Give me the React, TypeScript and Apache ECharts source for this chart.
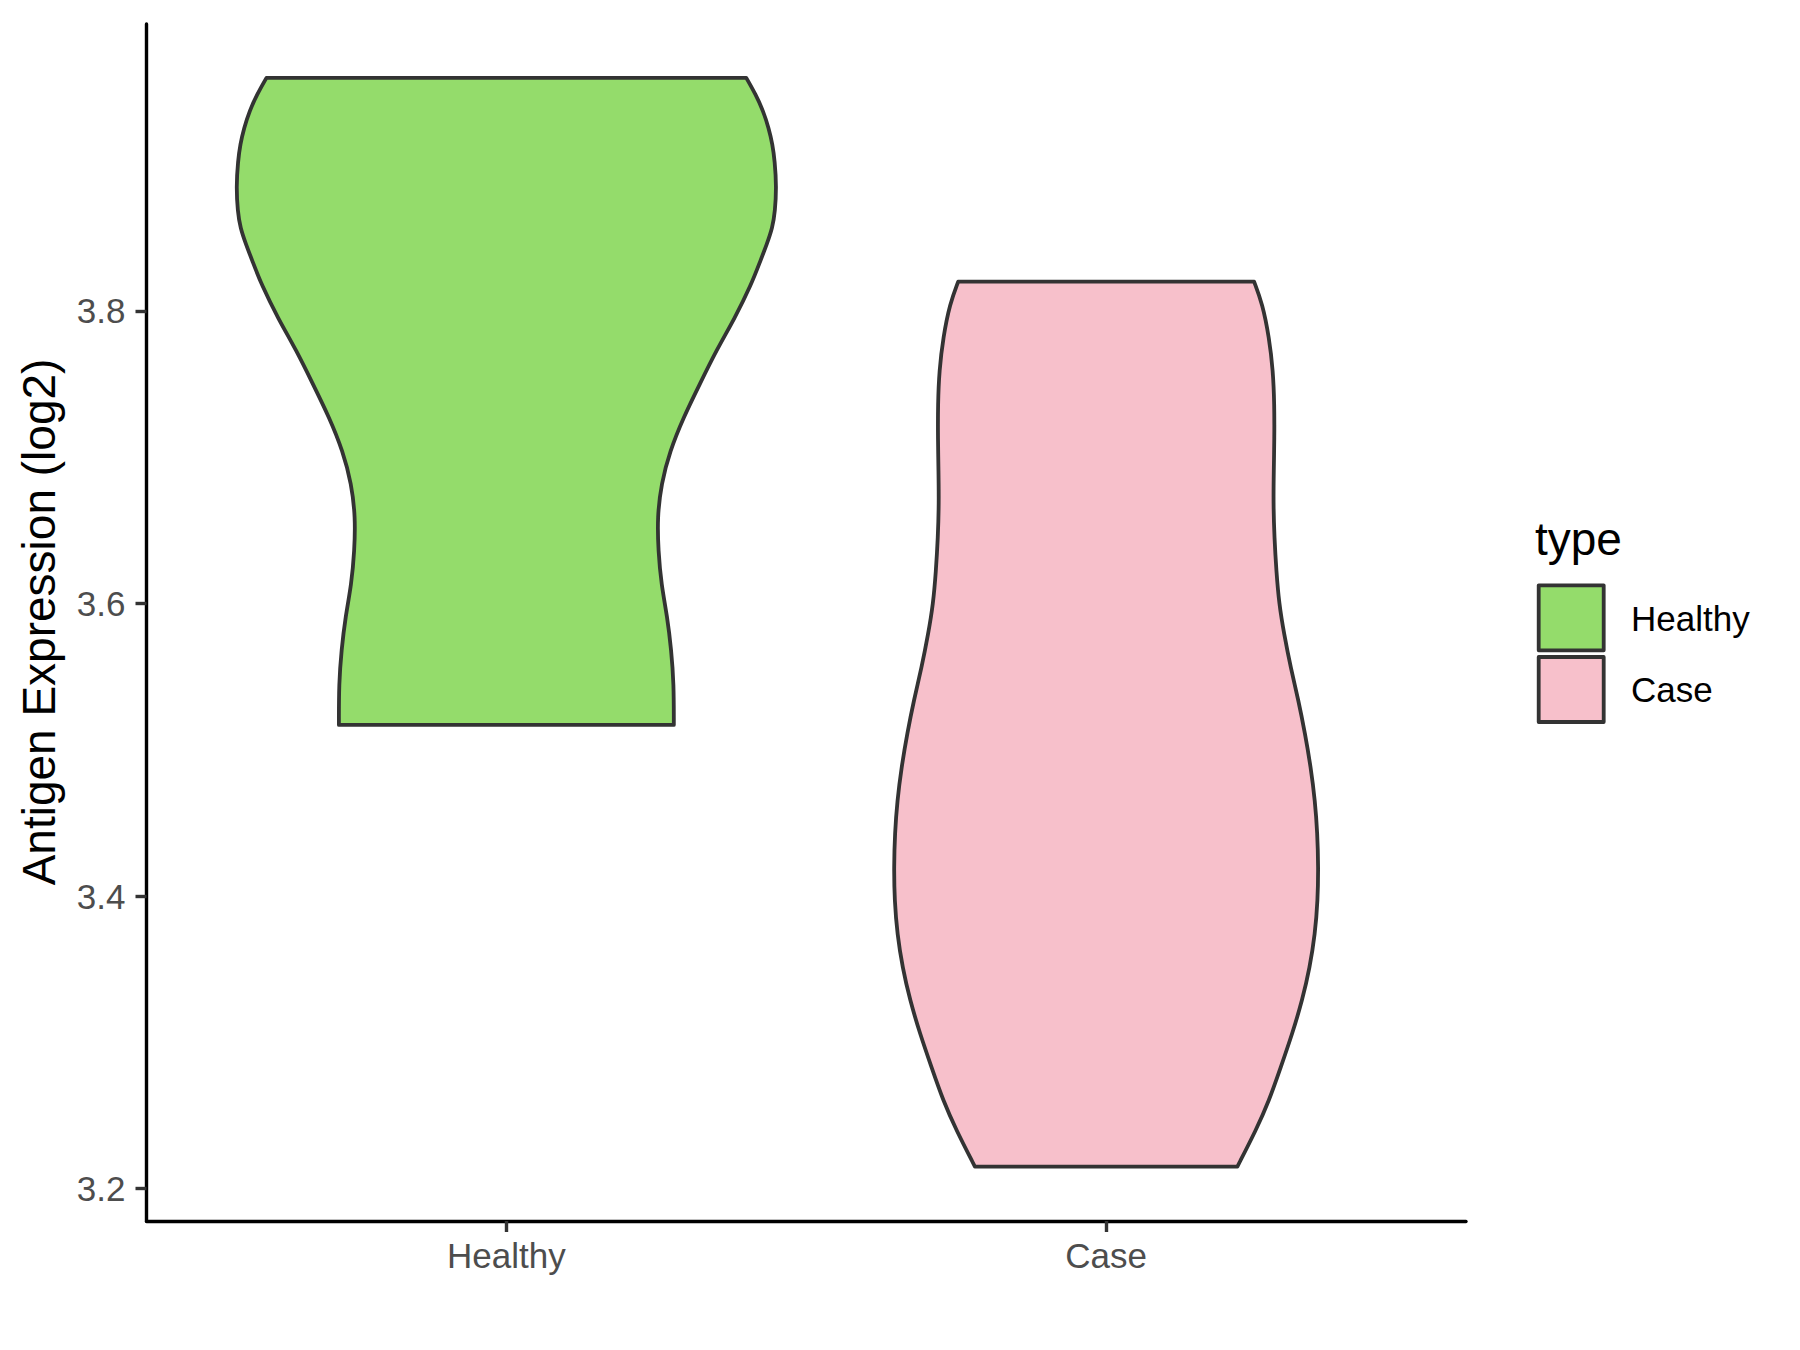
import React, { useEffect, useRef } from "react";
import * as echarts from "echarts";

// Groups along the x axis
const categories = ["Healthy", "Case"];
const fillColors = ["#94DC6B", "#F7C0CB"];

// Violin outlines: expression value (log2) and half-width in category units
const healthyY = [3.9594, 3.948, 3.937, 3.925, 3.914, 3.9025, 3.885, 3.868, 3.857, 3.8456, 3.834, 3.818, 3.795, 3.773, 3.75, 3.727, 3.704, 3.682, 3.659, 3.636, 3.613, 3.591, 3.568, 3.545, 3.517];
const healthyHalfWidth = [0.4, 0.4158, 0.428, 0.4375, 0.4437, 0.4475, 0.4503, 0.448, 0.4437, 0.4342, 0.4233, 0.4083, 0.3808, 0.35, 0.3225, 0.295, 0.2725, 0.2583, 0.2517, 0.2533, 0.2583, 0.2683, 0.275, 0.2792, 0.2792];

const caseY = [3.82, 3.805, 3.782, 3.759, 3.736, 3.713, 3.691, 3.668, 3.645, 3.622, 3.6, 3.579, 3.556, 3.534, 3.511, 3.488, 3.465, 3.443, 3.42, 3.397, 3.374, 3.351, 3.329, 3.306, 3.283, 3.26, 3.24, 3.215];
const caseHalfWidth = [0.2467, 0.2605, 0.2717, 0.2783, 0.2805, 0.2805, 0.2795, 0.2788, 0.2805, 0.2838, 0.2883, 0.2967, 0.3078, 0.3205, 0.3317, 0.3412, 0.3483, 0.3522, 0.3538, 0.3528, 0.3483, 0.3395, 0.3272, 0.3105, 0.2912, 0.2717, 0.25, 0.2188];

// Axis ticks
const yTicks = [3.2, 3.4, 3.6, 3.8];
const xTicks = [1, 2];
const yMin = 3.1778;
const yMax = 3.9962;

const FONT = "'Liberation Sans', Arial, Helvetica, sans-serif";
const OUTLINE = "#333333";

const groups = [
  { ys: healthyY, hw: healthyHalfWidth },
  { ys: caseY, hw: caseHalfWidth },
];

// Smooth outline through the outline points: clamped uniform cubic B-spline,
// written as cubic Bezier segments. Starts at pts[0] and ends at the last point.
function smoothCurve(pts: number[][]): string {
  const first = pts[0];
  const last = pts[pts.length - 1];
  const p = [first, first, ...pts, last, last];
  let d = "";
  for (let i = 0; i + 3 < p.length; i++) {
    const [b, c, e] = [p[i + 1], p[i + 2], p[i + 3]];
    const c1x = (2 * b[0] + c[0]) / 3;
    const c1y = (2 * b[1] + c[1]) / 3;
    const c2x = (b[0] + 2 * c[0]) / 3;
    const c2y = (b[1] + 2 * c[1]) / 3;
    const ex = (b[0] + 4 * c[0] + e[0]) / 6;
    const ey = (b[1] + 4 * c[1] + e[1]) / 6;
    d += ` C ${c1x} ${c1y} ${c2x} ${c2y} ${ex} ${ey}`;
  }
  return d;
}

export default function App() {
  const ref = useRef<HTMLDivElement>(null);

  useEffect(() => {
    if (!ref.current) return;
    const chart = echarts.init(ref.current, null, { renderer: "svg" });

    const option: any = {
      animation: false,
      backgroundColor: "#FFFFFF",
      grid: { left: 146.5, right: 334, top: 24, bottom: 129, containLabel: false },
      xAxis: {
        type: "value",
        min: 0.4,
        max: 2.6,
        axisLine: { show: true, onZero: false, lineStyle: { color: "#000000", width: 3.4 } },
        axisTick: { show: true, customValues: xTicks, length: 11, lineStyle: { color: OUTLINE, width: 3.4 } },
        axisLabel: {
          show: true,
          customValues: xTicks,
          formatter: (v: number) => categories[Math.round(v) - 1] ?? "",
          color: "#4D4D4D",
          fontSize: 35,
          fontFamily: FONT,
          margin: 17,
        },
        splitLine: { show: false },
      },
      yAxis: {
        type: "value",
        min: yMin,
        max: yMax,
        axisLine: { show: true, onZero: false, lineStyle: { color: "#000000", width: 3.4 } },
        axisTick: { show: true, customValues: yTicks, length: 11, lineStyle: { color: OUTLINE, width: 3.4 } },
        axisLabel: {
          show: true,
          customValues: yTicks,
          formatter: (v: number) => v.toFixed(1),
          color: "#4D4D4D",
          fontSize: 35,
          fontFamily: FONT,
          margin: 21,
        },
        splitLine: { show: false },
      },
      series: [
        {
          type: "custom",
          clip: false,
          data: groups.map((g, i) => [i + 1, g.ys[0]]),
          encode: { x: 0, y: 1 },
          renderItem: (params: any, api: any) => {
            const i = params.dataIndex;
            const g = groups[i];
            const cx = i + 1;
            const right = g.ys.map((y, k) => api.coord([cx + g.hw[k], y]));
            const left = g.ys.map((y, k) => api.coord([cx - g.hw[k], y])).reverse();
            let d = `M ${left[left.length - 1][0]} ${left[left.length - 1][1]} L ${right[0][0]} ${right[0][1]}`;
            d += smoothCurve(right);
            d += ` L ${left[0][0]} ${left[0][1]}`;
            d += smoothCurve(left);
            d += " Z";
            return {
              type: "path",
              shape: { pathData: d },
              style: {
                fill: fillColors[i],
                stroke: OUTLINE,
                lineWidth: 3.8,
                lineJoin: "round",
              },
            };
          },
        },
      ],
      graphic: [
        {
          type: "text",
          x: 39,
          y: 622,
          rotation: Math.PI / 2,
          style: {
            text: "Antigen Expression (log2)",
            fontSize: 46,
            fontFamily: FONT,
            fill: "#000000",
            align: "center",
            verticalAlign: "middle",
          },
        },
        {
          type: "text",
          x: 1535,
          y: 539,
          style: {
            text: "type",
            fontSize: 46,
            fontFamily: FONT,
            fill: "#000000",
            align: "left",
            verticalAlign: "middle",
          },
        },
        ...categories.flatMap((name, i) => [
          {
            type: "rect",
            shape: { x: 1538.7, y: 585.3 + i * 71.7, width: 65, height: 65 },
            style: { fill: fillColors[i], stroke: OUTLINE, lineWidth: 3.8, lineJoin: "round" },
          },
          {
            type: "text",
            x: 1631,
            y: 618 + i * 71.7,
            style: {
              text: name,
              fontSize: 35,
              fontFamily: FONT,
              fill: "#000000",
              align: "left",
              verticalAlign: "middle",
            },
          },
        ]),
      ],
    };

    chart.setOption(option);
    return () => chart.dispose();
  }, []);

  return (
    <div
      ref={ref}
      style={{ position: "absolute", left: 0, top: 0, width: 1800, height: 1350, background: "#FFFFFF" }}
    />
  );
}
